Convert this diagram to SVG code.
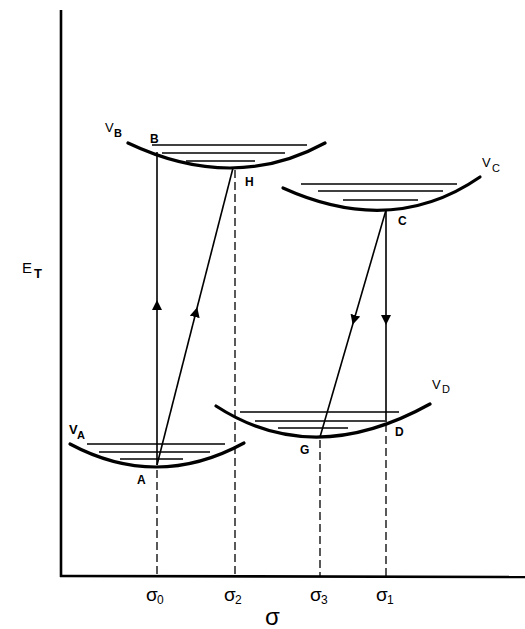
<svg xmlns="http://www.w3.org/2000/svg" width="525" height="629" viewBox="0 0 525 629">
<defs>
<style>
.axis{stroke:#000;stroke-width:2.6;fill:none}
.well{stroke:#000;stroke-width:3.2;fill:none;stroke-linecap:round}
.lvl{stroke:#000;stroke-width:1.4;fill:none}
.tr{stroke:#000;stroke-width:1.6;fill:none}
.dash{stroke:#000;stroke-width:1.3;fill:none;stroke-dasharray:8 4}
text{font-family:"Liberation Sans",Arial,sans-serif;fill:#000}
.lab{font-size:12px;font-weight:bold}
.vl{font-size:13px}
.sub{font-size:11px;font-weight:bold}
.sig{font-size:19px}
.ssub{font-size:12px}
</style>
<marker id="ah" viewBox="0 0 10 10" refX="5" refY="5" markerWidth="10" markerHeight="10" markerUnits="userSpaceOnUse" orient="auto">
<path d="M0,0 L10,5 L0,10 z" fill="#000"/>
</marker>
</defs>
<rect width="525" height="629" fill="#fff"/>
<g id="axes">
<line class="axis" x1="61" y1="10" x2="61" y2="577"/>
<line class="axis" x1="60" y1="576" x2="525" y2="577"/>
<text x="22" y="273" font-size="15">E</text>
<text x="34" y="278" font-size="13" font-weight="bold">T</text>
<text x="265" y="625" font-size="24">σ</text>
</g>
<g id="ticks">
<text x="146" y="601" class="sig">σ</text><text x="157" y="604" class="ssub">0</text>
<text x="224" y="601" class="sig">σ</text><text x="235" y="604" class="ssub">2</text>
<text x="310" y="601" class="sig">σ</text><text x="321" y="604" class="ssub">3</text>
<text x="376" y="601" class="sig">σ</text><text x="387" y="604" class="ssub">1</text>
</g>
<g id="connectors">
<line class="dash" x1="157" y1="470" x2="157" y2="576"/>
<line class="dash" x1="235" y1="170" x2="235" y2="576"/>
<line class="dash" x1="320" y1="440" x2="320" y2="576"/>
<line class="dash" x1="386" y1="424" x2="386" y2="576"/>
<line class="tr" x1="157" y1="465" x2="157" y2="305" marker-end="url(#ah)"/>
<line class="tr" x1="157" y1="305" x2="157" y2="152"/>
<line class="tr" x1="157" y1="465" x2="196" y2="312" marker-end="url(#ah)"/>
<line class="tr" x1="196" y1="312" x2="233" y2="168"/>
<line class="tr" x1="386" y1="210" x2="354" y2="320" marker-end="url(#ah)"/>
<line class="tr" x1="354" y1="320" x2="320" y2="437"/>
<line class="tr" x1="386" y1="210" x2="386" y2="320" marker-end="url(#ah)"/>
<line class="tr" x1="386" y1="320" x2="386" y2="422"/>
</g>
<g id="VB">
<path class="well" d="M128,143 Q233.5,193 325,143"/>
<line class="lvl" x1="152" y1="145" x2="307" y2="145"/>
<line class="lvl" x1="162" y1="153" x2="285" y2="153"/>
<line class="lvl" x1="186" y1="161" x2="255" y2="161"/>
<text x="105" y="132" class="vl">V</text><text x="114" y="137" class="sub">B</text>
<text x="150" y="143" class="lab">B</text>
<text x="245" y="186" class="lab">H</text>
</g>
<g id="VC">
<path class="well" d="M283,188 Q392.5,237.5 480,177"/>
<line class="lvl" x1="301" y1="184" x2="457" y2="184"/>
<line class="lvl" x1="318" y1="191" x2="443" y2="191"/>
<line class="lvl" x1="343" y1="200" x2="418" y2="200"/>
<text x="482" y="167" class="vl">V</text><text x="492" y="172" font-size="11">C</text>
<text x="398" y="225" class="lab">C</text>
</g>
<g id="VD">
<path class="well" d="M216,406 Q313,469 430,404"/>
<line class="lvl" x1="240" y1="412" x2="399" y2="412"/>
<line class="lvl" x1="255" y1="421" x2="385" y2="421"/>
<line class="lvl" x1="278" y1="428" x2="348" y2="428"/>
<text x="432" y="389" class="vl">V</text><text x="442" y="393" font-size="11">D</text>
<text x="300" y="454" class="lab">G</text>
<text x="395" y="436" class="lab">D</text>
</g>
<g id="VA">
<path class="well" d="M70,444 Q157,490.5 244,443"/>
<line class="lvl" x1="87" y1="444" x2="225" y2="444"/>
<line class="lvl" x1="99" y1="452" x2="210" y2="452"/>
<line class="lvl" x1="120" y1="459" x2="183" y2="459"/>
<text x="69" y="434" class="vl" font-weight="bold">V</text><text x="77" y="439" class="sub">A</text>
<text x="137" y="484" class="lab">A</text>
</g>
</svg>
